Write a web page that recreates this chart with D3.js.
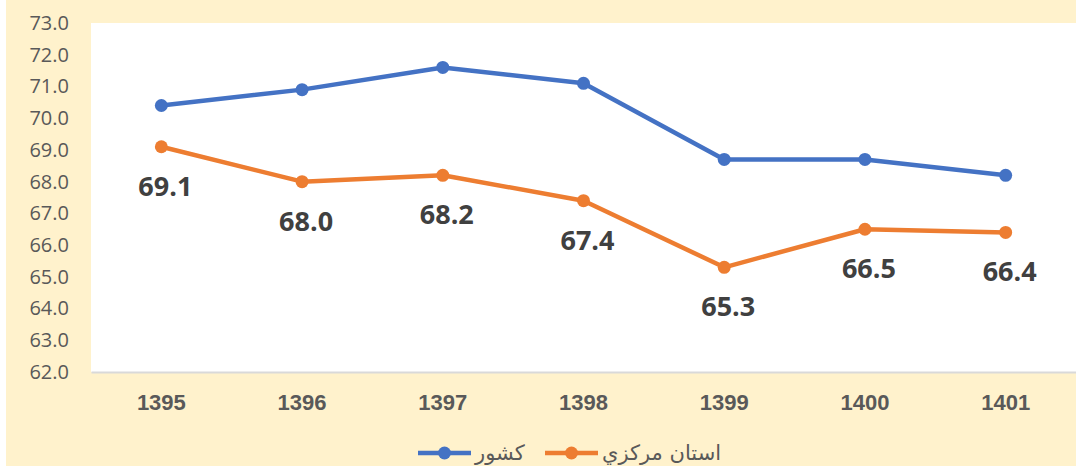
<!DOCTYPE html>
<html>
<head>
<meta charset="utf-8">
<script src="https://cdn.jsdelivr.net/npm/d3@7"></script>
<style>
  body { margin: 0; background: #fff; }
  svg { display: block; }
</style>
</head>
<body>
<div id="chart"></div>
<script>
// data
var years = ["1395", "1396", "1397", "1398", "1399", "1400", "1401"];
var countryValues = [70.4, 70.9, 71.6, 71.1, 68.7, 68.7, 68.2];
var provinceValues = [69.1, 68.0, 68.2, 67.4, 65.3, 66.5, 66.4];
var yTicks = [62, 63, 64, 65, 66, 67, 68, 69, 70, 71, 72, 73];
var seriesNames = ["کشور", "استان مرکزي"];
var seriesColors = ["#4472C4", "#ED7D31"];

var W = 1076, H = 466;
var margin = {top: 23, right: 0, bottom: 94, left: 91};
var width = W - margin.left - margin.right,
    height = H - margin.top - margin.bottom;

var svg = d3.select("#chart")
  .append("svg")
    .attr("width", W)
    .attr("height", H);

// peach background
svg.append("rect")
    .attr("x", 6).attr("y", 0)
    .attr("width", W - 6).attr("height", H)
    .attr("fill", "#FFF2CC");

var g = svg.append("g")
    .attr("transform", "translate(" + margin.left + "," + margin.top + ")");

// white plot area
g.append("rect")
    .attr("width", width)
    .attr("height", height)
    .attr("fill", "#fff");

var x = d3.scaleBand().domain(years).range([0, width]);
var y = d3.scaleLinear().domain([62, 73]).range([height, 0]);

// y axis labels
var yAxis = g.append("g")
    .call(d3.axisLeft(y).tickValues(yTicks).tickFormat(d3.format(".1f")).tickSize(0).tickPadding(22));
yAxis.select(".domain").remove();
yAxis.selectAll("text")
    .attr("fill", "#595959")
    .style("font-family", "'Open Sans', 'Liberation Sans', sans-serif")
    .style("font-size", "20px");

// x axis
var xAxis = g.append("g")
    .attr("transform", "translate(0," + height + ")")
    .call(d3.axisBottom(x).tickSize(0).tickPadding(22));
xAxis.select(".domain").attr("stroke", "#D9D9D9").attr("stroke-width", 2);
xAxis.selectAll("text")
    .attr("fill", "#595959")
    .style("font-family", "'Liberation Sans', Arial, sans-serif")
    .style("font-weight", "bold")
    .style("font-size", "22px");

var cx = function(d, i) { return x(years[i]) + x.bandwidth() / 2; };

var line = d3.line()
    .x(cx)
    .y(function(d) { return y(d); });

[countryValues, provinceValues].forEach(function(vals, k) {
  g.append("path")
      .datum(vals)
      .attr("fill", "none")
      .attr("stroke", seriesColors[k])
      .attr("stroke-width", 4.5)
      .attr("stroke-linejoin", "round")
      .attr("d", line);
  g.selectAll(".dot" + k)
    .data(vals)
    .enter().append("circle")
      .attr("cx", cx)
      .attr("cy", function(d) { return y(d); })
      .attr("r", 6.5)
      .attr("fill", seriesColors[k]);
});

// data labels for the province series
g.selectAll(".lbl")
  .data(provinceValues)
  .enter().append("text")
    .attr("x", function(d, i) { return cx(d, i) + 4; })
    .attr("y", function(d) { return y(d) + 49; })
    .attr("text-anchor", "middle")
    .attr("fill", "#404040")
    .style("font-family", "'Open Sans', 'Liberation Sans', sans-serif")
    .style("font-weight", "bold")
    .style("font-size", "27px")
    .text(function(d) { return d3.format(".1f")(d); });

// legend
var legend = svg.append("g").attr("transform", "translate(418,453)");
var legendX = [0, 127];
seriesNames.forEach(function(name, k) {
  var lg = legend.append("g").attr("transform", "translate(" + legendX[k] + ",0)");
  lg.append("line")
      .attr("x1", 0).attr("x2", 53)
      .attr("stroke", seriesColors[k])
      .attr("stroke-width", 4.5);
  lg.append("circle")
      .attr("cx", 26.5).attr("r", 6.5)
      .attr("fill", seriesColors[k]);
  lg.append("text")
      .attr("x", 57).attr("y", 7)
      .attr("fill", "#595959")
      .style("font-family", "'DejaVu Sans', sans-serif")
      .style("font-size", "21px")
      .text(name);
});
</script>
</body>
</html>
